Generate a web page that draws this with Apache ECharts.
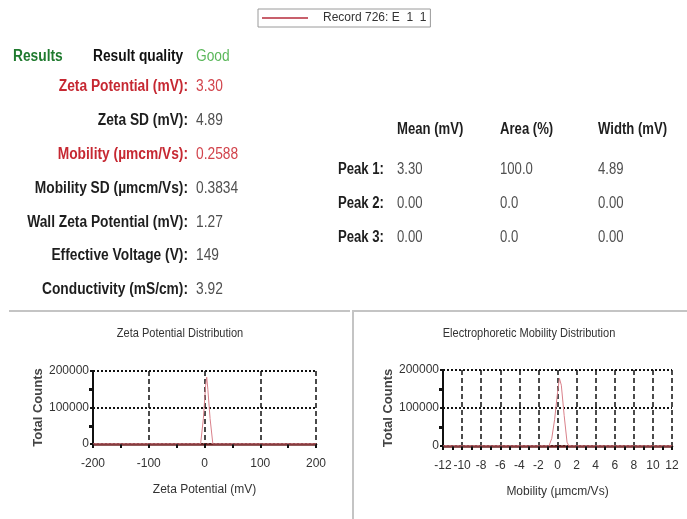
<!DOCTYPE html>
<html>
<head>
<meta charset="utf-8">
<script src="https://cdn.jsdelivr.net/npm/echarts@6/dist/echarts.min.js"></script>
<style>
  html, body { margin: 0; padding: 0; background: #fff; }
  #chart { width: 687px; height: 519px; }
</style>
</head>
<body>
<div id="chart"></div>
<script>
// ---- measurement record ----
const recordName = 'Record 726: E  1  1';
const qualityText = 'Good';

const resultLabels = [
  'Zeta Potential (mV):',
  'Zeta SD (mV):',
  'Mobility (µmcm/Vs):',
  'Mobility SD (µmcm/Vs):',
  'Wall Zeta Potential (mV):',
  'Effective Voltage (V):',
  'Conductivity (mS/cm):'
];
const resultValues = ['3.30', '4.89', '0.2588', '0.3834', '1.27', '149', '3.92'];
const resultHighlight = [true, false, true, false, false, false, false];

const peakHeaders = ['Mean (mV)', 'Area (%)', 'Width (mV)'];
const peakNames = ['Peak 1:', 'Peak 2:', 'Peak 3:'];
const peakMean = ['3.30', '0.00', '0.00'];
const peakArea = ['100.0', '0.0', '0.0'];
const peakWidth = ['4.89', '0.00', '0.00'];

// ---- zeta potential distribution (mV vs total counts) ----
const zetaX = [-200, -7, -2, 2, 4, 6, 10, 15, 200];
const zetaCounts = [0, 0, 70000, 160000, 183000, 150000, 70000, 0, 0];
const zetaTicks = { min: -200, max: 200, step: 100 };

// ---- electrophoretic mobility distribution (µmcm/Vs vs total counts) ----
const mobX = [-12, -0.9, -0.6, -0.3, 0, 0.2, 0.4, 0.7, 1.0, 1.2, 12];
const mobCounts = [0, 0, 20000, 70000, 140000, 178000, 160000, 80000, 10000, 0, 0];
const mobTicks = { min: -12, max: 12, step: 2 };

const countTicks = { min: 0, max: 200000, step: 100000 };

const FONT = "'Liberation Sans', Arial, sans-serif";
const RED = '#c62832';
const SERIES_RED = '#d9808a';

function pairs(xs, ys) { return xs.map((x, i) => [x, ys[i]]); }

// ---- text blocks drawn as graphic elements (horizontally condensed) ----
const graphics = [];
function txt(x, y, text, opts, squeeze) {
  graphics.push({
    type: 'text', x: x, y: y, silent: true,
    scaleX: squeeze || 0.86,
    style: Object.assign({
      text: text, fill: '#222',
      font: '16px ' + FONT,
      textAlign: 'left', textVerticalAlign: 'middle'
    }, opts || {})
  });
}

txt(13, 57, 'Results', { font: 'bold 16px ' + FONT, fill: '#1f7a2e' });
txt(93, 57, 'Result quality', { font: 'bold 16px ' + FONT, fill: '#111' });
txt(196, 57, qualityText, { font: '16px ' + FONT, fill: '#5cb85c' });

const rowY0 = 87, rowStep = 33.8;
resultLabels.forEach((lab, i) => {
  const y = rowY0 + i * rowStep;
  const hi = resultHighlight[i];
  txt(188, y, lab, { font: 'bold 16px ' + FONT, fill: hi ? RED : '#1e1e1e', textAlign: 'right' });
  txt(196, y, resultValues[i], { font: '16px ' + FONT, fill: hi ? '#d2444c' : '#505050' });
});

const colX = [397, 500, 598];
peakHeaders.forEach((h, i) => txt(colX[i], 130, h, { font: 'bold 16px ' + FONT, fill: '#1e1e1e' }, 0.82));
const peakCols = [peakMean, peakArea, peakWidth];
peakNames.forEach((p, r) => {
  const y = 170 + r * 34;
  txt(338, y, p, { font: 'bold 16px ' + FONT, fill: '#1e1e1e' }, 0.82);
  peakCols.forEach((col, c) => txt(colX[c], y, col[r], { font: '16px ' + FONT, fill: '#505050' }, 0.82));
});

// panel frames
const frame = { stroke: '#c4c4c4', lineWidth: 2 };
graphics.push({ type: 'line', silent: true, shape: { x1: 9, y1: 311, x2: 350, y2: 311 }, style: frame });
graphics.push({ type: 'line', silent: true, shape: { x1: 353, y1: 311, x2: 687, y2: 311 }, style: frame });
graphics.push({ type: 'line', silent: true, shape: { x1: 353, y1: 310, x2: 353, y2: 519 }, style: frame });

// chart titles
txt(180, 333, 'Zeta Potential Distribution', { font: '13px ' + FONT, fill: '#333', textAlign: 'center' }, 0.85);
txt(529, 333, 'Electrophoretic Mobility Distribution', { font: '13px ' + FONT, fill: '#333', textAlign: 'center' }, 0.85);

// ---- axes ----
function valueX(t, gridIndex, name) {
  return {
    type: 'value', gridIndex: gridIndex,
    min: t.min, max: t.max, interval: t.step,
    name: name, nameLocation: 'middle', nameGap: 40,
    nameTextStyle: { fontFamily: FONT, fontSize: 12, color: '#333' },
    axisLine: { show: true, onZero: false, lineStyle: { color: '#6e2424', width: 2.5 } },
    axisTick: { show: true, inside: false, length: 4, lineStyle: { color: '#111', width: 2 } },
    minorTick: { show: true, splitNumber: 2, length: 4, lineStyle: { color: '#111', width: 2 } },
    axisLabel: { interval: 0, margin: 14, fontFamily: FONT, fontSize: 12, color: '#333' },
    splitLine: { show: true, lineStyle: { color: '#111', width: 1.5, type: [5, 3] } }
  };
}
function countY(gridIndex) {
  return {
    type: 'value', gridIndex: gridIndex,
    min: countTicks.min, max: countTicks.max, interval: countTicks.step,
    name: 'Total Counts', nameLocation: 'middle', nameGap: 41, nameRotate: 90,
    nameTextStyle: { fontFamily: FONT, fontSize: 13, fontWeight: 'bold', color: '#444' },
    axisLine: { show: true, onZero: false, lineStyle: { color: '#111', width: 2 } },
    axisTick: { show: true, inside: false, length: 3, lineStyle: { color: '#111', width: 2 } },
    minorTick: { show: true, splitNumber: 2, length: 4, lineStyle: { color: '#111', width: 3 } },
    axisLabel: { margin: 4, fontFamily: FONT, fontSize: 12, color: '#333', formatter: v => String(v) },
    splitLine: { show: true, lineStyle: { color: '#111', width: 2, type: [2, 2] } }
  };
}

const option = {
  backgroundColor: '#fff',
  animation: false,
  legend: {
    data: [recordName],
    left: 258, top: 9,
    padding: [3, 4, 3, 4],
    borderColor: '#9a9a9a', borderWidth: 1, borderRadius: 0,
    icon: 'rect', itemWidth: 46, itemHeight: 2, itemGap: 10,
    textStyle: { fontFamily: FONT, fontSize: 12, color: '#333', padding: [0, 0, 0, 10] }
  },
  graphic: graphics,
  grid: [
    { left: 93, right: 371, top: 371, bottom: 75 },
    { left: 443, right: 15, top: 370, bottom: 73 }
  ],
  xAxis: [
    valueX(zetaTicks, 0, 'Zeta Potential (mV)'),
    valueX(mobTicks, 1, 'Mobility (µmcm/Vs)')
  ],
  yAxis: [countY(0), countY(1)],
  series: [
    {
      name: recordName, type: 'line', xAxisIndex: 0, yAxisIndex: 0,
      data: pairs(zetaX, zetaCounts), showSymbol: false, z: 5,
      lineStyle: { color: SERIES_RED, width: 1 }, itemStyle: { color: '#c8606c' }
    },
    {
      name: recordName, type: 'line', xAxisIndex: 1, yAxisIndex: 1,
      data: pairs(mobX, mobCounts), showSymbol: false, z: 5,
      lineStyle: { color: SERIES_RED, width: 1 }, itemStyle: { color: '#c8606c' }
    }
  ]
};

echarts.init(document.getElementById('chart'), null, { renderer: 'canvas' }).setOption(option);
</script>
</body>
</html>
